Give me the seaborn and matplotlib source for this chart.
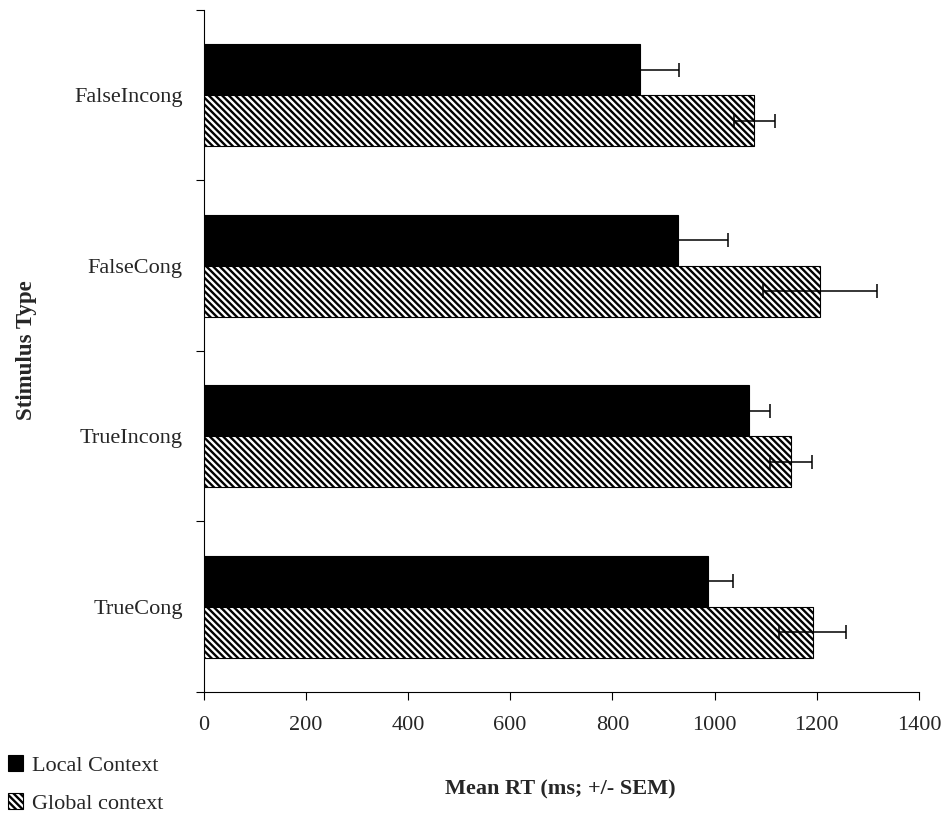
import matplotlib
matplotlib.use("Agg")
import matplotlib.pyplot as plt
from matplotlib.ticker import FixedLocator
import numpy as np
import pandas as pd
import seaborn as sns

# Mean reaction times and standard errors per stimulus type
stimulus_types = ["FalseIncong", "FalseCong", "TrueIncong", "TrueCong"]
contexts = ["Local Context", "Global context"]
local_mean = [854, 929, 1067, 988]
local_sem = [76, 97, 41, 49]
global_mean = [1078, 1206, 1149, 1192]
global_sem = [40, 112, 41, 65]
x_ticks = [0, 200, 400, 600, 800, 1000, 1200, 1400]

df = pd.DataFrame({
    "Stimulus": stimulus_types * 2,
    "Context": [contexts[0]] * 4 + [contexts[1]] * 4,
    "RT": local_mean + global_mean,
})
sems = {contexts[0]: local_sem, contexts[1]: global_sem}

sns.set_style("ticks")
plt.rcParams["font.family"] = ["Liberation Serif", "DejaVu Serif"]
plt.rcParams["hatch.linewidth"] = 1.7
plt.rcParams["hatch.color"] = "black"

fig = plt.figure(figsize=(9.48, 8.17), dpi=100)
ax = fig.add_axes([0.2147, 0.153, 0.7547, 0.8348])

sns.barplot(data=df, y="Stimulus", x="RT", hue="Context",
            order=stimulus_types, hue_order=contexts,
            palette=["black", "white"], width=0.6, errorbar=None,
            edgecolor="black", linewidth=0.8, legend=False, ax=ax)

# Dense diagonal hatch for the global-context bars
for patch in ax.containers[1]:
    patch.set_facecolor("white")
    patch.set_hatch("\\\\\\\\\\")
    patch.set_edgecolor("black")

# SEM error bars, placed on the bar centres
for cont, ctx in zip(ax.containers, contexts):
    ys = [p.get_y() + p.get_height() / 2 for p in cont]
    xs = [p.get_width() for p in cont]
    ax.errorbar(xs, ys, xerr=sems[ctx], fmt="none", ecolor="black",
                elinewidth=1.1, capsize=4.7, capthick=1.1, zorder=5)

ax.set_xlim(0, 1400)
ax.set_xticks(x_ticks)
ax.set_ylim(3.5, -0.5)

# Category separators as minor ticks; labels sit between them
ax.yaxis.set_minor_locator(FixedLocator([-0.5, 0.5, 1.5, 2.5, 3.5]))
ax.tick_params(axis="y", which="major", length=0, pad=15, labelsize=16)
ax.tick_params(axis="y", which="minor", length=6, width=0.8, color="black")
ax.tick_params(axis="x", which="major", length=6, width=0.8, color="black",
               pad=11, labelsize=16)

for side in ["top", "right"]:
    ax.spines[side].set_visible(False)
for side in ["left", "bottom"]:
    ax.spines[side].set_color("black")
    ax.spines[side].set_linewidth(0.8)

ax.set_xlabel("Mean RT (ms; +/- SEM)", fontsize=16, fontweight="bold")
ax.set_ylabel("Stimulus Type", fontsize=16.5, fontweight="bold")
ax.xaxis.set_label_coords(0.498, -0.143)
ax.xaxis.label.set_va("center")
ax.yaxis.set_label_coords(-0.247, 0.501)
ax.yaxis.label.set_va("center")

handles = [ax.containers[0][0], ax.containers[1][0]]
fig.legend(handles=handles, labels=contexts, loc="upper left",
           bbox_to_anchor=(0.0081, 0.0757), frameon=False, fontsize=16,
           handlelength=0.7, handleheight=0.7, handletextpad=0.4,
           labelspacing=0.8, borderpad=0, borderaxespad=0)

fig.savefig("out.png", dpi=100, facecolor="white")
